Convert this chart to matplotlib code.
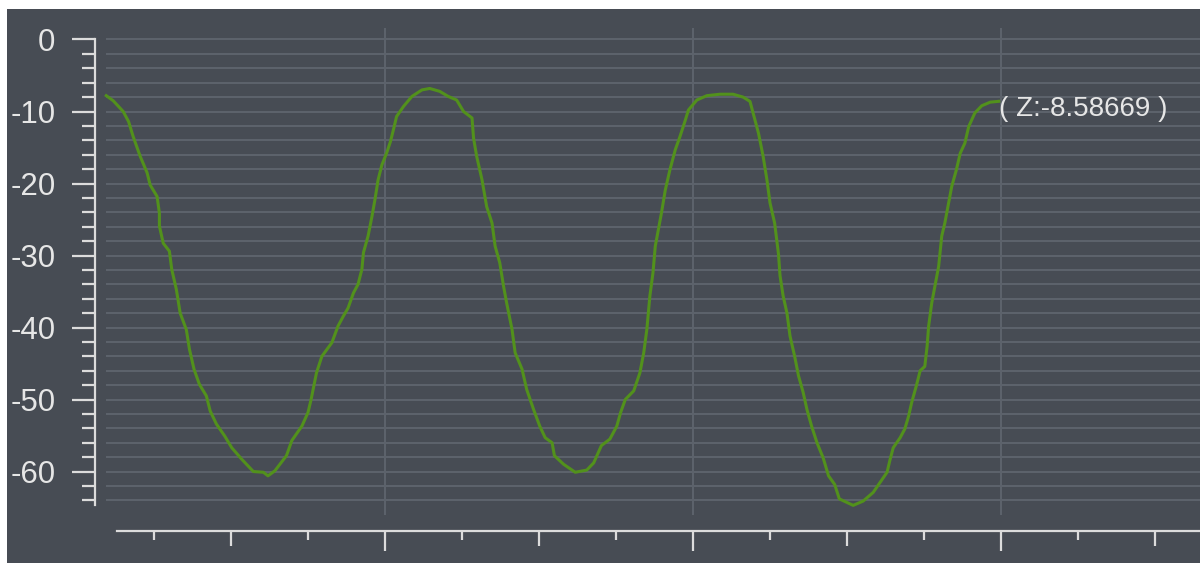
import matplotlib
matplotlib.use("Agg")
import matplotlib.pyplot as plt
from matplotlib.patches import Rectangle
from matplotlib.ticker import FixedLocator, NullFormatter

plt.rcParams['font.family'] = ['Liberation Sans', 'DejaVu Sans']

# ---- data ----
x_vals = [0.38,0.47,0.60,0.67,0.73,0.82,0.91,0.95,1.04,1.07,
          1.07,1.12,1.20,1.23,1.29,1.34,1.42,1.46,1.52,1.59,
          1.68,1.73,1.81,1.92,2.01,2.14,2.29,2.42,2.48,2.57,
          2.72,2.79,2.92,3.00,3.04,3.11,3.18,3.31,3.39,3.46,
          3.52,3.59,3.65,3.70,3.72,3.78,3.83,3.87,3.91,3.96,
          4.02,4.07,4.11,4.15,4.24,4.35,4.48,4.58,4.71,4.82,
          4.93,5.02,5.13,5.15,5.19,5.26,5.32,5.39,5.43,5.49,
          5.54,5.58,5.65,5.69,5.78,5.84,5.93,6.01,6.08,6.17,
          6.20,6.32,6.47,6.62,6.71,6.81,6.92,7.01,7.06,7.12,
          7.23,7.31,7.36,7.40,7.44,7.48,7.51,7.55,7.59,7.64,
          7.70,7.77,7.83,7.90,7.94,8.05,8.18,8.35,8.52,8.65,
          8.74,8.78,8.85,8.91,8.96,9.00,9.06,9.11,9.13,9.17,
          9.22,9.26,9.32,9.37,9.43,9.48,9.54,9.61,9.69,9.76,
          9.84,9.90,10.00,10.08,10.21,10.34,10.43,10.52,10.56,10.60,
          10.69,10.75,10.80,10.84,10.90,10.95,11.01,11.04,11.06,11.10,
          11.14,11.19,11.23,11.27,11.32,11.36,11.42,11.47,11.53,11.58,
          11.66,11.75,11.86,11.97]
z_vals = [-7.8,-8.5,-10.0,-11.4,-13.5,-16.2,-18.5,-20.2,-21.8,-24.1,
          -25.9,-28.3,-29.4,-31.9,-34.7,-38.0,-40.3,-43.0,-45.8,-47.9,
          -49.5,-51.6,-53.4,-55.1,-56.7,-58.3,-60.0,-60.1,-60.6,-59.9,
          -57.8,-55.7,-53.7,-51.8,-50.0,-46.3,-44.0,-42.1,-39.8,-38.4,
          -37.3,-35.2,-34.0,-31.9,-29.6,-27.3,-24.6,-22.2,-19.5,-17.4,
          -15.8,-14.2,-12.5,-10.7,-9.3,-7.9,-7.0,-6.8,-7.2,-7.9,
          -8.4,-10.0,-10.9,-13.7,-16.2,-19.5,-23.2,-25.5,-28.7,-31.0,
          -34.3,-36.6,-40.3,-43.5,-45.8,-48.6,-51.4,-53.7,-55.3,-56.0,
          -57.8,-59.0,-60.1,-59.8,-58.8,-56.4,-55.5,-53.7,-51.8,-50.0,
          -48.8,-46.3,-43.5,-40.3,-35.6,-32.4,-28.7,-26.4,-24.1,-20.9,
          -18.1,-15.3,-13.5,-11.2,-9.8,-8.4,-7.8,-7.6,-7.6,-8.0,
          -8.6,-10.2,-13.0,-16.2,-19.5,-22.7,-25.5,-29.8,-32.8,-35.6,
          -38.0,-41.2,-44.0,-46.7,-49.0,-51.4,-53.7,-56.0,-58.1,-60.6,
          -61.8,-63.8,-64.3,-64.7,-64.1,-62.9,-61.5,-60.1,-58.3,-56.7,
          -55.3,-54.1,-52.3,-50.4,-48.1,-46.0,-45.4,-42.6,-39.8,-36.6,
          -34.3,-31.5,-27.3,-25.5,-22.7,-20.4,-18.1,-15.8,-14.4,-12.1,
          -10.2,-9.2,-8.7,-8.58669]

y_major = [0, -10, -20, -30, -40, -50, -60]
y_major_labels = ['0', '-10', '-20', '-30', '-40', '-50', '-60']
y_minor = [v for v in range(-64, 1, 2) if v % 10 != 0]
grid_y = list(range(-64, 1, 2))
x_long = [4, 8, 12]
x_mid = [2, 6, 10, 14]
x_short = [1, 3, 5, 7, 9, 11, 13]

# ---- styles ----
BG = '#474c54'
GRID = '#5c626b'
AXC = '#dcdcdc'
TXT = '#e6e6e6'
LINE = '#52911c'

W, H = 1200, 563
fig = plt.figure(figsize=(W / 100, H / 100), dpi=100)
fig.patch.set_facecolor('white')
fig.patches.append(Rectangle((7 / W, 0), 1, (H - 9) / H, transform=fig.transFigure,
                             facecolor=BG, edgecolor='none', zorder=-10))

ax = fig.add_axes([95 / W, (H - 531) / H, 1105 / W, (531 - 28) / H])
ax.set_facecolor('none')
ax.set_xlim(0.2338, 14.584)
ax.set_ylim(-68.26, 1.597)

# grid lines (partial extents as in reference)
ax.hlines(grid_y, 0.377, 14.584, colors=GRID, linewidth=1.5, zorder=1)
ax.vlines(x_long, -66.0, 1.597, colors=GRID, linewidth=1.5, zorder=1)

ax.plot(x_vals, z_vals, color=LINE, linewidth=2.2, zorder=3, solid_joinstyle='round')

ax.annotate(f"( Z:{z_vals[-1]:.5f} )", xy=(x_vals[-1], z_vals[-1]),
            xytext=(0, -8), textcoords='offset pixels', ha='left', va='center',
            fontsize=20, color=TXT, zorder=4)

# spines
for s in ['top', 'right']:
    ax.spines[s].set_visible(False)
ax.spines['left'].set_color(AXC)
ax.spines['left'].set_linewidth(1.6)
ax.spines['left'].set_bounds(-64.65, 0.1)
ax.spines['bottom'].set_color(AXC)
ax.spines['bottom'].set_linewidth(1.6)
ax.spines['bottom'].set_bounds(0.519, 14.584)

# y ticks
ax.yaxis.set_major_locator(FixedLocator(y_major))
ax.set_yticklabels(y_major_labels)
ax.yaxis.set_minor_locator(FixedLocator(y_minor))
ax.tick_params(axis='y', which='major', direction='out', length=16.5, width=1.6,
               color=AXC, labelcolor=TXT, labelsize=22.5, pad=12)
ax.tick_params(axis='y', which='minor', direction='out', length=9.5, width=1.6, color=AXC)

# x ticks
ax.xaxis.set_major_locator(FixedLocator(x_long))
ax.xaxis.set_minor_locator(FixedLocator(x_short))
ax.xaxis.set_major_formatter(NullFormatter())
ax.tick_params(axis='x', which='major', direction='out', length=14.4, width=1.6, color=AXC)
ax.tick_params(axis='x', which='minor', direction='out', length=6.5, width=1.6, color=AXC)

sec = ax.secondary_xaxis('bottom')
sec.spines['bottom'].set_visible(False)
sec.xaxis.set_major_locator(FixedLocator(x_mid))
sec.xaxis.set_major_formatter(NullFormatter())
sec.tick_params(axis='x', which='major', direction='out', length=10.8, width=1.6, color=AXC)
sec.xaxis.set_minor_locator(FixedLocator([]))

fig.savefig('out.png', dpi=100, facecolor=fig.get_facecolor())
